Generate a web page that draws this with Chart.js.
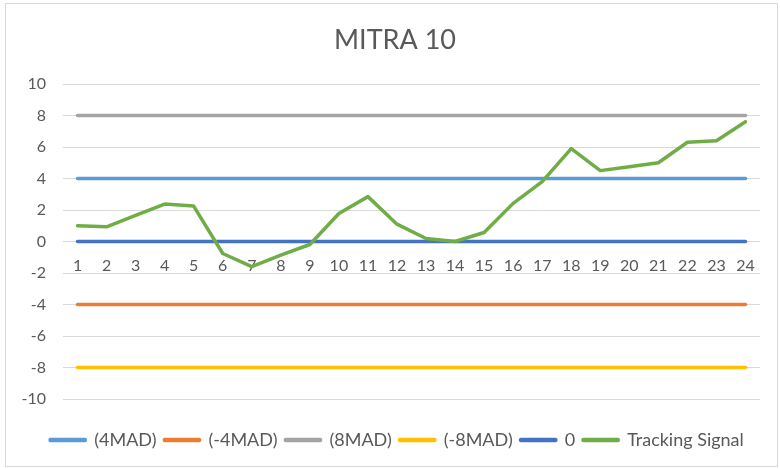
<!DOCTYPE html>
<html>
<head>
<meta charset="utf-8">
<script src="https://cdn.jsdelivr.net/npm/chart.js@4.4.0/dist/chart.umd.min.js"></script>
<style>
  body { margin: 0; background: #fff; }
  .wrap { position: relative; width: 780px; height: 469px; }
  .frame { position: absolute; left: 5px; top: 3px; width: 771px; height: 462px; border: 1px solid #d9d9d9; pointer-events: none; }
</style>
</head>
<body>
<div class="wrap">
  <canvas id="chart" width="780" height="469"></canvas>
  <div class="frame"></div>
</div>
<script>
  var periods = ["1", "2", "3", "4", "5", "6", "7", "8", "9", "10", "11", "12",
                 "13", "14", "15", "16", "17", "18", "19", "20", "21", "22", "23", "24"];
  var plus4Mad  = [4, 4, 4, 4, 4, 4, 4, 4, 4, 4, 4, 4, 4, 4, 4, 4, 4, 4, 4, 4, 4, 4, 4, 4];
  var minus4Mad = [-4, -4, -4, -4, -4, -4, -4, -4, -4, -4, -4, -4, -4, -4, -4, -4, -4, -4, -4, -4, -4, -4, -4, -4];
  var plus8Mad  = [8, 8, 8, 8, 8, 8, 8, 8, 8, 8, 8, 8, 8, 8, 8, 8, 8, 8, 8, 8, 8, 8, 8, 8];
  var minus8Mad = [-8, -8, -8, -8, -8, -8, -8, -8, -8, -8, -8, -8, -8, -8, -8, -8, -8, -8, -8, -8, -8, -8, -8, -8];
  var zeroLine  = [0, 0, 0, 0, 0, 0, 0, 0, 0, 0, 0, 0, 0, 0, 0, 0, 0, 0, 0, 0, 0, 0, 0, 0];
  var trackingSignal = [1.0, 0.93, 1.66, 2.38, 2.25, -0.76, -1.6, -0.87, -0.19, 1.78, 2.85, 1.1,
                        0.19, 0.0, 0.57, 2.42, 3.8, 5.9, 4.5, 4.75, 5.0, 6.3, 6.4, 7.6];
  var yTicks = [-10, -8, -6, -4, -2, 0, 2, 4, 6, 8, 10];

  var grey = "#595959";
  var font = "Lato";

  function series(label, data, color, order) {
    return {
      label: label,
      data: data,
      borderColor: color,
      backgroundColor: color,
      borderWidth: 3.5,
      borderCapStyle: "round",
      borderJoinStyle: "round",
      pointRadius: 0,
      tension: 0,
      order: order
    };
  }

  // title and legend sit a bit right of the canvas centre, like the Excel frame
  var shiftBoxes = {
    id: "shiftBoxes",
    afterLayout: function (chart) {
      chart.titleBlock.left += 15;
      chart.titleBlock.right += 15;
      chart.legend.left += 17;
      chart.legend.right += 17;
    }
  };

  var ctx = document.getElementById("chart").getContext("2d");
  var myChart = new Chart(ctx, {
    type: "line",
    data: {
      labels: periods,
      datasets: [
        series("(4MAD)", plus4Mad, "#5B9BD5", 6),
        series("(-4MAD)", minus4Mad, "#ED7D31", 5),
        series("(8MAD)", plus8Mad, "#A5A5A5", 4),
        series("(-8MAD)", minus8Mad, "#FFC000", 3),
        series("0", zeroLine, "#4472C4", 2),
        series("Tracking Signal", trackingSignal, "#70AD47", 1)
      ]
    },
    plugins: [shiftBoxes],
    options: {
      responsive: false,
      animation: false,
      layout: { padding: { left: 0, right: 20, top: 0, bottom: 10 } },
      plugins: {
        title: {
          display: true,
          text: "MITRA 10",
          color: grey,
          font: { family: font, size: 27, weight: "normal" },
          padding: { top: 24, bottom: 27.6 }
        },
        legend: {
          position: "bottom",
          labels: {
            color: grey,
            font: { family: font, size: 18 },
            boxWidth: 35,
            boxHeight: 1,
            padding: 8,
            sort: function (a, b) { return a.datasetIndex - b.datasetIndex; }
          }
        },
        tooltip: { enabled: false }
      },
      scales: {
        x: {
          position: { y: 0 },
          offset: true,
          grid: { display: false },
          border: { display: false },
          ticks: {
            color: grey,
            font: { family: font, size: 16 },
            padding: 7,
            maxRotation: 0,
            autoSkip: false
          }
        },
        // empty spacer between plot and legend
        gap: {
          type: "category",
          position: "bottom",
          grid: { display: false },
          border: { display: false },
          ticks: { display: false },
          afterFit: function (scale) { scale.height = 24; }
        },
        y: {
          min: -10,
          max: 10,
          afterFit: function (scale) { scale.width = 63; },
          afterBuildTicks: function (scale) {
            scale.ticks = yTicks.map(function (v) { return { value: v }; });
          },
          grid: { color: "#d9d9d9", drawTicks: false },
          border: { display: false },
          ticks: {
            color: grey,
            font: { family: font, size: 16 },
            padding: 17
          }
        }
      }
    }
  });
</script>
</body>
</html>
